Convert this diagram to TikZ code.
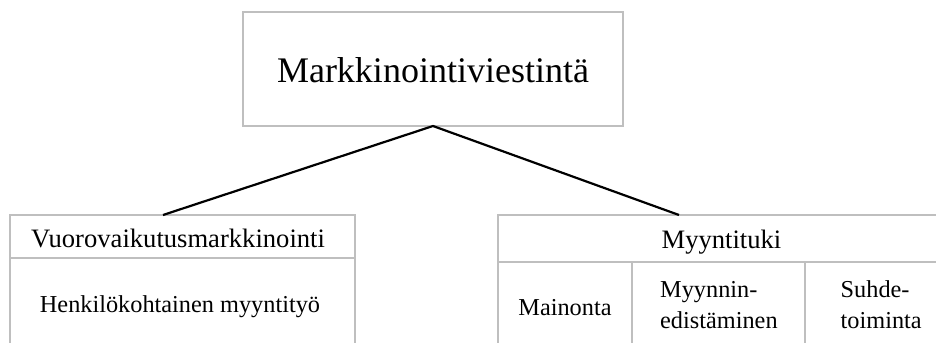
\documentclass[tikz,border=0pt]{standalone}
\usepackage{fontspec}
\setmainfont{Liberation Serif}
\begin{document}
\begin{tikzpicture}[x=1bp,y=-1bp,
  frame/.style={draw=black!25, line width=2bp, inner sep=0pt, outer sep=0pt},
  link/.style={draw=black, line width=2.2bp},
  bigtext/.style={font=\fontsize{36bp}{40bp}\selectfont, inner sep=0pt, anchor=base},
  headtext/.style={font=\fontsize{26.6bp}{30bp}\selectfont, inner sep=0pt, anchor=base},
  bodytext/.style={font=\fontsize{24.3bp}{31bp}\selectfont, inner sep=0pt, anchor=base},
  twoline/.style={font=\fontsize{24.3bp}{31bp}\selectfont, inner sep=0pt, anchor=base west}]
\useasboundingbox (0,0) rectangle (936,342);
\clip (0,0) rectangle (936,342);

% top-level box
\node[frame, minimum width=380bp, minimum height=114bp] (top) at (433,69) {};
\node[bigtext] (toptext) at (433,82) {Markkinointiviestintä};

% left branch
\node[frame, minimum width=345bp, minimum height=43bp] (lefthead) at (182.5,236.5) {};
\node[frame, minimum width=345bp, minimum height=122bp] (leftbody) at (182.5,319) {};
\node[headtext] (lefthtext) at (178,247) {Vuorovaikutusmarkkinointi};
\node[bodytext] (leftbtext) at (180,312) {Henkilökohtainen myyntityö};

% right branch
\node[frame, minimum width=462bp, minimum height=47bp] (righthead) at (729,238.5) {};
\node[frame, minimum width=134bp, minimum height=118bp] (cellA) at (565,321) {};
\node[frame, minimum width=173bp, minimum height=118bp] (cellB) at (718.5,321) {};
\node[frame, minimum width=155bp, minimum height=118bp] (cellC) at (882.5,321) {};
\node[headtext] (righthtext) at (721.5,248) {Myyntituki};
\node[bodytext] (textA) at (565,315) {Mainonta};
% two-line cells: the base anchor sits on the second line
\node[twoline] (textB) at (660,328) {\vbox{\hbox{Myynnin-}\hbox{edistäminen}}};
\node[twoline] (textC) at (840.5,328) {\vbox{\hbox{Suhde-}\hbox{toiminta}}};

% connectors
\coordinate (lin) at (163,215);
\coordinate (rin) at (679,215);
\draw[link] (lin) -- (top.south) -- (rin);
\end{tikzpicture}
\end{document}
